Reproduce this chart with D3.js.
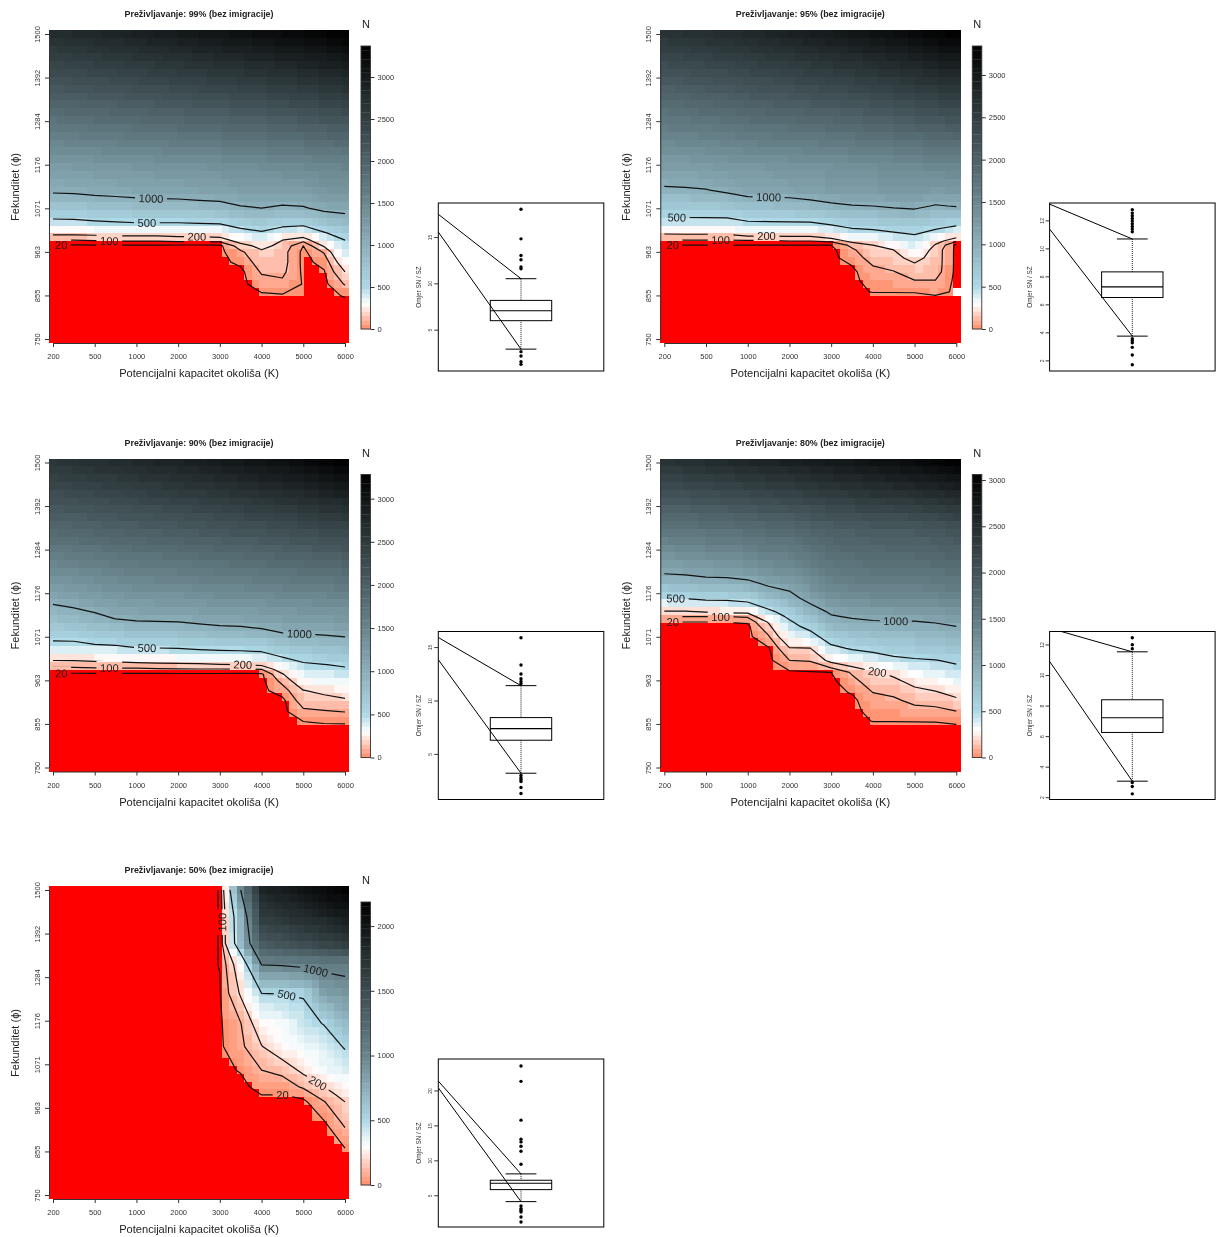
<!DOCTYPE html>
<html>
<head>
<meta charset="utf-8">
<script src="https://cdnjs.cloudflare.com/ajax/libs/d3/7.8.5/d3.min.js"></script>
<style>
body { margin: 0; background: #fff; }
svg { display: block; font-family: "Liberation Sans", Arial, sans-serif; filter: blur(0.35px); }
.axis path, .axis line { stroke: #333; }
.axis text { fill: #333; }
</style>
</head>
<body>
<div id="chart"></div>
<script>
// axis labels
var kTicks = [200, 500, 1000, 2000, 3000, 4000, 5000, 6000];
var phiTicks = [750, 855, 963, 1071, 1176, 1284, 1392, 1500];
var levels = [20, 100, 200, 500, 1000];
var survival = [99, 95, 90, 80, 50];

// N on the K x fekunditet grid: 15 K columns, one row per phi in the phiRows list
var phiRows99 = [1500,1338,1178,1109,1072,1038,1011,993,979,964,939,915,885,856,836,750];
var grid99 = [
 [2750,2790,2830,2870,2910,2960,3000,3050,3090,3130,3180,3220,3260,3310,3369],
 [2020,2050,2080,2110,2140,2170,2200,2230,2260,2290,2320,2360,2400,2450,2500],
 [1270,1285,1300,1320,1340,1350,1365,1380,1395,1420,1440,1460,1490,1520,1545],
 [1000,1010,1045,1065,1090,1105,1110,1135,1150,1200,1225,1195,1210,1300,1320],
 [711,725,760,786,812,826,833,860,881,965,1000,952,974,1075,1100],
 [444,452,478,500,520,520,520,535,545,644,707,620,600,760,853],
 [237,240,243,255,260,260,269,272,292,400,467,361,317,480,637],
 [100,100,110,118,118,118,133,133,140,267,350,200,130,340,500],
 [5,5,5,5,5,5,0,0,0,150,240,160,20,215,445],
 [0,0,0,0,0,0,0,0,0,84,178,135,0,110,388],
 [0,0,0,0,0,0,0,0,0,38,150,135,0,42,295],
 [0,0,0,0,0,0,0,0,0,0,110,120,5,14,200],
 [0,0,0,0,0,0,0,0,0,0,60,80,15,0,108],
 [0,0,0,0,0,0,0,0,0,0,5,10,19,0,25],
 [0,0,0,0,0,0,0,0,0,0,0,0,0,0,0],
 [0,0,0,0,0,0,0,0,0,0,0,0,0,0,0]
];
var phiRows95 = [1500,1338,1178,1116,1077,1048,1023,1003,991,981,969,949,930,915,893,866,856,750];
var grid95 = [
 [2640,2670,2700,2740,2780,2830,2880,2930,2980,3030,3090,3140,3200,3270,3340],
 [1900,1930,1970,2000,2050,2080,2110,2150,2180,2220,2260,2310,2360,2410,2450],
 [1230,1240,1260,1290,1310,1325,1340,1350,1370,1400,1420,1440,1470,1500,1520],
 [960,971,988,1054,1120,1130,1140,1180,1215,1240,1250,1290,1300,1240,1270],
 [691,699,706,737,824,835,848,888,946,985,1000,1040,1060,979,1015],
 [487,495,495,500,570,578,585,592,645,727,746,792,825,733,707],
 [308,310,310,316,363,367,374,378,437,507,533,567,570,527,448],
 [162,167,167,170,200,200,205,205,269,343,376,434,485,360,243],
 [76,84,84,84,88,88,100,100,120,240,278,350,428,254,113],
 [20,20,20,20,20,20,20,20,20,126,200,283,384,190,0],
 [0,0,0,0,0,0,0,0,0,83,176,200,329,150,0],
 [0,0,0,0,0,0,0,0,0,52,138,162,241,148,0],
 [0,0,0,0,0,0,0,0,0,20,100,124,176,146,0],
 [0,0,0,0,0,0,0,0,0,0,81,96,144,140,0],
 [0,0,0,0,0,0,0,0,0,0,52,63,96,96,0],
 [0,0,0,0,0,0,0,0,0,0,24,24,26,60,0],
 [0,0,0,0,0,0,0,0,0,0,0,0,0,15,0],
 [0,0,0,0,0,0,0,0,0,0,0,0,0,0,0]
];
var phiRows90 = [1500,1338,1178,1116,1080,1048,1023,1003,991,979,964,939,915,888,861,851,750];
var grid90 = [
 [2560,2600,2640,2680,2720,2770,2810,2860,2910,2960,3010,3060,3120,3200,3280],
 [1890,1920,1950,1980,2010,2040,2070,2100,2130,2170,2200,2240,2280,2320,2360],
 [1140,1190,1245,1296,1330,1345,1350,1385,1410,1415,1440,1475,1490,1505,1530],
 [817,859,924,1005,1040,1050,1060,1090,1115,1125,1150,1190,1200,1220,1245],
 [610,625,682,720,769,783,792,835,871,885,931,994,1010,1030,1060],
 [421,421,468,481,527,534,540,568,585,593,610,722,783,808,843],
 [263,263,281,294,322,331,341,353,372,381,403,513,563,634,669],
 [136,140,147,152,162,169,175,181,194,200,223,363,478,495,529],
 [66,70,78,78,78,84,88,91,90,92,95,270,423,446,469],
 [5,5,5,5,5,5,5,5,5,0,5,188,367,395,422],
 [0,0,0,0,0,0,0,0,0,0,0,131,300,334,364],
 [0,0,0,0,0,0,0,0,0,0,0,58,195,230,270],
 [0,0,0,0,0,0,0,0,0,0,0,0,152,159,181],
 [0,0,0,0,0,0,0,0,0,0,0,0,80,94,104],
 [0,0,0,0,0,0,0,0,0,0,0,0,15,28,32],
 [0,0,0,0,0,0,0,0,0,0,0,0,0,0,0],
 [0,0,0,0,0,0,0,0,0,0,0,0,0,0,0]
];
var phiRows80 = [1500,1338,1227,1166,1134,1121,1107,1097,1072,1043,1013,984,959,934,915,888,864,853,750];
var grid80 = [
 [2420,2450,2490,2530,2570,2610,2640,2690,2730,2770,2820,2860,2920,2990,3060],
 [1590,1610,1640,1660,1690,1730,1750,1810,1870,1890,1920,1930,1950,1980,2030],
 [1005,1030,1075,1090,1135,1225,1250,1380,1510,1540,1570,1575,1575,1600,1640],
 [495,505,547,547,600,786,897,1100,1245,1275,1310,1320,1315,1345,1390],
 [195,195,218,240,245,444,642,856,1053,1107,1140,1145,1145,1175,1225],
 [100,100,100,100,112,340,545,762,972,1030,1065,1075,1075,1105,1160],
 [15,15,15,20,29,208,462,650,872,932,970,980,982,1010,1070],
 [0,0,0,0,0,172,420,575,805,868,909,917,925,950,1000],
 [0,0,0,0,0,91,318,404,638,705,740,777,785,800,863],
 [0,0,0,0,0,12,193,196,437,525,570,645,648,680,720],
 [0,0,0,0,0,0,98,107,234,295,359,425,470,490,535],
 [0,0,0,0,0,0,8,14,20,112,184,230,337,374,418],
 [0,0,0,0,0,0,0,0,0,65,144,166,228,276,329],
 [0,0,0,0,0,0,0,0,0,25,100,118,165,187,241],
 [0,0,0,0,0,0,0,0,0,0,76,85,124,136,176],
 [0,0,0,0,0,0,0,0,0,0,43,47,68,74,98],
 [0,0,0,0,0,0,0,0,0,0,22,22,24,26,40],
 [0,0,0,0,0,0,0,0,0,0,0,0,0,0,12],
 [0,0,0,0,0,0,0,0,0,0,0,0,0,0,0]
];
var phiRows50 = [1500,1434,1369,1316,1246,1172,1115,1057,1016,996,979,933,865,848,750];
var grid50 = [
 [0,0,0,0,0,0,0,0,22,1000,1850,1930,2000,2090,2186],
 [0,0,0,0,0,0,0,0,22,727,1650,1720,1790,1860,1950],
 [0,0,0,0,0,0,0,0,22,700,1375,1450,1520,1580,1650],
 [0,0,0,0,0,0,0,0,22,290,1000,1015,1050,1060,1075],
 [0,0,0,0,0,0,0,0,15,215,500,505,515,833,889],
 [0,0,0,0,0,0,0,0,10,97,282,320,430,510,680],
 [0,0,0,0,0,0,0,0,8,78,195,292,340,390,517],
 [0,0,0,0,0,0,0,0,2,25,100,127,228,330,382],
 [0,0,0,0,0,0,0,0,0,0,47,52,113,200,286],
 [0,0,0,0,0,0,0,0,0,0,20,20,45,150,238],
 [0,0,0,0,0,0,0,0,0,0,0,0,2,95,200],
 [0,0,0,0,0,0,0,0,0,0,0,0,0,20,127],
 [0,0,0,0,0,0,0,0,0,0,0,0,0,0,20],
 [0,0,0,0,0,0,0,0,0,0,0,0,0,0,0],
 [0,0,0,0,0,0,0,0,0,0,0,0,0,0,0]
];

// colour bar top value and ticks
var barMax = [3369, 3342, 3280, 3060, 2186];
var barTicks99 = [0, 500, 1000, 1500, 2000, 2500, 3000];
var barTicks50 = [0, 500, 1000, 1500, 2000];

// contour labels: level, K position (tick units), optional phi
var labels99 = [[1000, 2.33], [500, 2.25], [200, 3.45], [100, 1.37], [20, 0.21]];
var labels95 = [[1000, 2.51], [500, 0.28], [200, 2.43], [100, 1.36], [20, 0.21]];
var labels90 = [[1000, 5.9], [500, 2.25], [200, 4.55], [100, 1.37], [20, 0.21]];
var labels80 = [[1000, 5.53], [500, 0.28], [200, 5.1], [100, 1.36], [20, 0.21]];
var labels50 = [[1000, 6.28], [500, 5.6], [200, 6.35], [100, 4.0, 1420], [20, 5.5]];

// grid cells left blank in the picture: column, row from the top
var blank95 = [[39, 33]];

// box plots: low whisker, Q1, median, Q3, high whisker
var box99 = [2.9, 5.97, 7.05, 8.16, 10.5];
var box95 = [3.73, 6.49, 7.25, 8.32, 10.67];
var box90 = [3.19, 6.28, 7.37, 8.4, 11.39];
var box80 = [3.05, 6.24, 7.2, 8.38, 11.52];
var box50 = [4.09, 5.81, 6.72, 7.15, 8.06];
var out99 = [18, 14.8, 13, 12.55, 11.76, 11.58, 2.63, 2.16, 1.55, 1.26];
var out95 = [12.76, 12.52, 12.33, 12.14, 11.95, 11.76, 11.57, 11.38, 11.19, 3.54, 3.4, 3.26, 2.93, 2.38, 1.69];
var out90 = [15.87, 13.32, 12.48, 12.04, 11.79, 11.57, 2.98, 2.76, 2.6, 2.41, 1.85, 1.29];
var out80 = [12.44, 11.98, 11.72, 2.96, 2.7, 2.22];
var out50 = [23.5, 21.3, 15.75, 13.03, 12.64, 12.02, 11.31, 9.44, 3.47, 3.09, 2.85, 2.6, 1.89, 1.18];
// where the two stray lines from the whiskers meet the left side of the frame
var slant99 = [17.45, 15.54];
var slant95 = [13.16, 11.38];
var slant90 = [15.9, 13.82];
var slant80 = [13.07, 10.89];
var slant50 = [21.34, 20.38];
var boxLim99 = [0.54, 18.67];
var boxLim95 = [1.24, 13.24];
var boxLim90 = [0.73, 16.46];
var boxLim80 = [1.85, 12.85];
var boxLim50 = [0.46, 24.5];
var boxTicks99 = [5, 10, 15];
var boxTicks95 = [2, 4, 6, 8, 10, 12];
var boxTicks90 = [5, 10, 15];
var boxTicks80 = [2, 4, 6, 8, 10, 12];
var boxTicks50 = [5, 10, 15, 20];

var panels = [
 {phi: phiRows99, grid: grid99, ticks: barTicks99, labels: labels99, blank: [], box: box99, out: out99, slant: slant99, lim: boxLim99, boxTicks: boxTicks99},
 {phi: phiRows95, grid: grid95, ticks: barTicks99, labels: labels95, blank: blank95, box: box95, out: out95, slant: slant95, lim: boxLim95, boxTicks: boxTicks95},
 {phi: phiRows90, grid: grid90, ticks: barTicks99, labels: labels90, blank: [], box: box90, out: out90, slant: slant90, lim: boxLim90, boxTicks: boxTicks90},
 {phi: phiRows80, grid: grid80, ticks: barTicks99, labels: labels80, blank: [], box: box80, out: out80, slant: slant80, lim: boxLim80, boxTicks: boxTicks80},
 {phi: phiRows50, grid: grid50, ticks: barTicks50, labels: labels50, blank: [], box: box50, out: out50, slant: slant50, lim: boxLim50, boxTicks: boxTicks50}
];

var cols = [0, 611.3];
var rowsTop = [0, 428.5, 856];
var plotW = 300, plotH = 313, inset = 4;
var nCells = 40, nBands = 64;

var svg = d3.select("#chart").append("svg").attr("width", 1217).attr("height", 1237);

// salmon - white - light blue - grey blue - black, banded like the colour bar
function bandColor(max) {
  var ramp = d3.scaleLinear()
    .domain([0, 300, 500, 0.46 * max, max])
    .range(["#ff8c69", "#ffffff", "#add8e6", "#68838b", "#000000"]);
  return function (v) {
    var k = Math.max(0, Math.min(nBands - 1, Math.floor(v / max * nBands)));
    return ramp((k + 0.5) / nBands * max);
  };
}

function drawHeat(g, p, i) {
  var x = d3.scaleLinear().domain([0, 7]).range([inset, plotW - inset]);
  var y = d3.scaleLinear().domain([750, 1500]).range([plotH - inset, inset]);
  var rowY = p.phi.map(function (d) { return y(d); });
  var toRow = d3.scaleLinear().domain(rowY).range(d3.range(p.phi.length)).clamp(true);
  var color = bandColor(barMax[i]);
  var band = d3.range(nCells);
  var cellX = d3.scaleBand().domain(band).range([0, plotW]);
  var cellY = d3.scaleBand().domain(band).range([0, plotH]);
  var nx = p.grid[0].length, ny = p.grid.length;

  function sample(u, v) {
    var c0 = Math.min(nx - 2, Math.floor(u)), r0 = Math.min(ny - 2, Math.floor(v));
    var fc = u - c0, fr = v - r0;
    var top = p.grid[r0][c0] * (1 - fc) + p.grid[r0][c0 + 1] * fc;
    var bot = p.grid[r0 + 1][c0] * (1 - fc) + p.grid[r0 + 1][c0 + 1] * fc;
    return top * (1 - fr) + bot * fr;
  }

  var cells = [];
  band.forEach(function (row) {
    band.forEach(function (col) {
      var val = sample(col * (nx - 1) / (nCells - 1), toRow(inset + row * (plotH - 2 * inset) / (nCells - 1)));
      var blank = p.blank.some(function (b) { return b[0] === col && b[1] === row; });
      cells.push({col: col, row: row, fill: blank ? "#fff" : (val < 20 ? "#ff0000" : color(val))});
    });
  });
  g.append("g").attr("shape-rendering", "crispEdges").selectAll("rect").data(cells).enter().append("rect")
    .attr("x", function (d) { return cellX(d.col); })
    .attr("y", function (d) { return cellY(d.row); })
    .attr("width", cellX.bandwidth() + 0.4)
    .attr("height", cellY.bandwidth() + 0.4)
    .attr("fill", function (d) { return d.fill; });

  // contours on the same grid, the open border pieces of d3.contours thrown away
  var nodeX = d3.scaleLinear().domain([0, nx - 1]).range([inset, plotW - inset]);
  var nodeY = d3.scaleLinear().domain(d3.range(ny)).range(rowY);
  var flat = d3.merge(p.grid);
  var lines = {};
  levels.forEach(function (lev) {
    var shape = d3.contours().size([nx, ny]).thresholds([lev])(flat)[0];
    var parts = [];
    shape.coordinates.forEach(function (poly) {
      poly.forEach(function (ring) {
        var cur = [];
        var pts = ring.slice(0, -1);
        var start = pts.findIndex(function (q) { return onEdge(q, nx, ny); });
        if (start < 0) { parts.push(ring.map(toPx)); return; }
        for (var k = 0; k <= pts.length; k++) {
          var q = pts[(start + k) % pts.length];
          if (onEdge(q, nx, ny)) {
            if (cur.length > 1) parts.push(cur);
            cur = [];
          } else cur.push(toPx(q));
        }
      });
    });
    lines[lev] = parts;
  });
  function toPx(q) { return [nodeX(q[0] - 0.5), nodeY(q[1] - 0.5)]; }

  var maskId = "gaps" + i;
  var mask = g.append("mask").attr("id", maskId).attr("maskUnits", "userSpaceOnUse")
    .attr("x", -10).attr("y", -10).attr("width", plotW + 20).attr("height", plotH + 20);
  mask.append("rect").attr("x", -10).attr("y", -10).attr("width", plotW + 20).attr("height", plotH + 20).attr("fill", "#fff");

  var path = d3.line();
  var lineG = g.append("g").attr("mask", "url(#" + maskId + ")");
  levels.forEach(function (lev) {
    lineG.selectAll(null).data(lines[lev]).enter().append("path")
      .attr("d", path)
      .attr("fill", "none")
      .attr("stroke", "#111")
      .attr("stroke-width", 1.2)
      .attr("stroke-linejoin", "round");
  });

  p.labels.forEach(function (lab) {
    var spot = findSpot(lines[lab[0]], x(lab[1]), lab.length > 2 ? y(lab[2]) : null);
    var w = String(lab[0]).length * 6.25;
    var at = "translate(" + spot.x + "," + spot.y + ") rotate(" + spot.a + ")";
    mask.append("rect").attr("x", -w / 2 - 3.5).attr("y", -7).attr("width", w + 7).attr("height", 14)
      .attr("transform", at).attr("fill", "#000");
    g.append("text").attr("transform", at)
      .attr("text-anchor", "middle").attr("dominant-baseline", "central")
      .attr("font-size", 11.2).attr("fill", "#222").text(lab[0]);
  });

  // axes
  var xAxis = d3.axisBottom(d3.scalePoint().domain(kTicks).range([inset, plotW - inset])).tickSize(4).tickSizeOuter(0).tickPadding(7);
  var gx = g.append("g").attr("class", "axis").attr("transform", "translate(0," + plotH + ")").call(xAxis);
  gx.selectAll("text").attr("font-size", 7.5);
  var yAxis = d3.axisLeft(d3.scalePoint().domain(phiTicks.slice().reverse()).range([inset, plotH - inset])).tickSize(4).tickSizeOuter(0);
  var gy = g.append("g").attr("class", "axis").call(yAxis);
  gy.selectAll("text").attr("font-size", 7.5).attr("x", 0).attr("dy", 0)
    .attr("text-anchor", "middle").attr("dominant-baseline", "central")
    .attr("transform", "translate(-12,0) rotate(-90)");
  gx.attr("font-family", null); gy.attr("font-family", null);

  g.append("text").attr("x", 150).attr("y", -13).attr("text-anchor", "middle")
    .attr("font-size", 8.9).attr("font-weight", "bold").attr("fill", "#222")
    .text("Preživljavanje: " + survival[i] + "% (bez imigracije)");
  g.append("text").attr("x", 150).attr("y", 347).attr("text-anchor", "middle")
    .attr("font-size", 11.1).attr("fill", "#222").text("Potencijalni kapacitet okoliša (K)");
  g.append("text").attr("transform", "translate(-34,157) rotate(-90)").attr("text-anchor", "middle")
    .attr("dominant-baseline", "central").attr("font-size", 11).attr("fill", "#222").text("Fekunditet (ϕ)");
}

function onEdge(q, nx, ny) {
  return q[0] <= 0 || q[0] >= nx || q[1] <= 0 || q[1] >= ny;
}

function findSpot(parts, tx, ty) {
  var best = null, bestD = Infinity;
  parts.forEach(function (pts) {
    for (var k = 1; k < pts.length; k++) {
      var a = pts[k - 1], b = pts[k];
      for (var s = 0; s <= 10; s++) {
        var px = a[0] + (b[0] - a[0]) * s / 10, py = a[1] + (b[1] - a[1]) * s / 10;
        var d = Math.abs(px - tx) + (ty === null ? 0 : Math.abs(py - ty));
        if (d < bestD) {
          bestD = d;
          var ang = Math.atan2(b[1] - a[1], b[0] - a[0]) * 180 / Math.PI;
          if (ang > 60) ang -= 180;
          if (ang < -120) ang += 180;
          best = {x: px, y: py, a: ang};
        }
      }
    }
  });
  return best;
}

function drawBar(g, p, i) {
  var max = barMax[i];
  var h = 283;
  var y = d3.scaleLinear().domain([0, max]).range([h, 0]);
  var color = bandColor(max);
  var bar = g.append("g").attr("transform", "translate(312,16)");
  bar.selectAll("rect").data(d3.range(nBands)).enter().append("rect")
    .attr("x", 0).attr("width", 9.5)
    .attr("y", function (k) { return y((k + 1) / nBands * max); })
    .attr("height", h / nBands + 0.3)
    .attr("fill", function (k) { return color((k + 0.5) / nBands * max); });
  bar.append("rect").attr("width", 9.5).attr("height", h).attr("fill", "none").attr("stroke", "#333").attr("stroke-width", 0.9);
  var ax = bar.append("g").attr("class", "axis").attr("transform", "translate(9.5,0)")
    .call(d3.axisRight(y).tickValues(p.ticks).tickFormat(d3.format("d")).tickSize(4).tickPadding(3));
  ax.select(".domain").remove();
  ax.selectAll("text").attr("font-size", 7.5);
  g.append("text").attr("x", 317).attr("y", -6).attr("text-anchor", "middle")
    .attr("dominant-baseline", "central").attr("font-size", 11).attr("fill", "#222").text("N");
}

function drawBox(g, p, i) {
  var w = 165.5, h = 168;
  var box = g.append("g").attr("transform", "translate(389.3,173)");
  var y = d3.scaleLinear().domain(p.lim).range([h, 0]);
  var mid = 82.7, half = 30.7, cap = 15.4;
  var clip = "boxclip" + i;
  box.append("clipPath").attr("id", clip).append("rect").attr("width", w).attr("height", h);

  box.append("rect").attr("x", mid - half).attr("y", y(p.box[3])).attr("width", half * 2)
    .attr("height", y(p.box[1]) - y(p.box[3])).attr("fill", "#fff").attr("stroke", "#000").attr("stroke-width", 1);
  box.append("line").attr("x1", mid - half).attr("x2", mid + half).attr("y1", y(p.box[2])).attr("y2", y(p.box[2]))
    .attr("stroke", "#000").attr("stroke-width", 1.1);

  [[p.box[0], p.box[1]], [p.box[4], p.box[3]]].forEach(function (wh) {
    box.append("line").attr("x1", mid).attr("x2", mid).attr("y1", y(wh[0])).attr("y2", y(wh[1]))
      .attr("stroke", "#000").attr("stroke-width", 0.9).attr("stroke-dasharray", "1,1");
    box.append("line").attr("x1", mid - cap).attr("x2", mid + cap).attr("y1", y(wh[0])).attr("y2", y(wh[0]))
      .attr("stroke", "#000").attr("stroke-width", 1);
  });

  // stray lines that run from the whisker ends off to the left
  box.append("g").attr("clip-path", "url(#" + clip + ")").selectAll("line")
    .data([[p.slant[0], p.box[4]], [p.slant[1], p.box[0]]]).enter().append("line")
    .attr("x1", 0).attr("x2", mid)
    .attr("y1", function (d) { return y(d[0]); })
    .attr("y2", function (d) { return y(d[1]); })
    .attr("stroke", "#000").attr("stroke-width", 1);

  box.selectAll("circle").data(p.out).enter().append("circle")
    .attr("cx", mid).attr("cy", function (d) { return y(d); }).attr("r", 1.7).attr("fill", "#000");

  box.append("rect").attr("width", w).attr("height", h).attr("fill", "none").attr("stroke", "#000").attr("stroke-width", 1);

  var ax = box.append("g").attr("class", "axis").call(d3.axisLeft(y).tickValues(p.boxTicks).tickSize(4));
  ax.select(".domain").remove();
  ax.selectAll("text").attr("font-size", 5).attr("x", 0).attr("dy", 0)
    .attr("text-anchor", "middle").attr("dominant-baseline", "central")
    .attr("transform", "translate(-8,0) rotate(-90)");
  box.append("text").attr("transform", "translate(-20," + h / 2 + ") rotate(-90)")
    .attr("text-anchor", "middle").attr("dominant-baseline", "central")
    .attr("font-size", 6.4).attr("fill", "#333").text("Omjer SN / SZ");
}

panels.forEach(function (p, i) {
  var g = svg.append("g")
    .attr("transform", "translate(" + (49 + cols[i % 2]) + "," + (30 + rowsTop[Math.floor(i / 2)]) + ")");
  drawHeat(g, p, i);
  drawBar(g, p, i);
  drawBox(g, p, i);
});
</script>
</body>
</html>
